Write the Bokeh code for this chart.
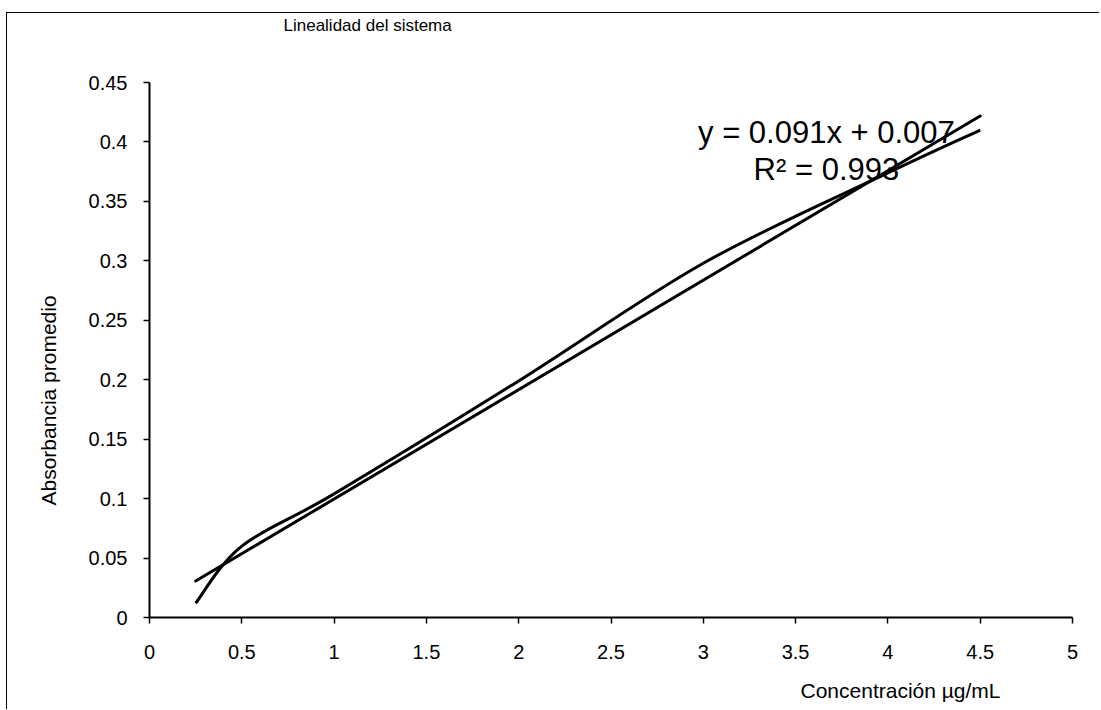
import numpy as np
from bokeh.plotting import figure
from bokeh.models import Label, Title, FixedTicker
from bokeh.embed import file_html
from bokeh.resources import INLINE

# ---- data ----
concentracion = [0.25, 0.5, 1.0, 2.0, 3.0, 4.0, 4.5]
absorbancia = [0.012, 0.060, 0.104, 0.199, 0.298, 0.374, 0.410]
x_ticks = [0, 0.5, 1, 1.5, 2, 2.5, 3, 3.5, 4, 4.5, 5]
x_tick_labels = ["0", "0.5", "1", "1.5", "2", "2.5", "3", "3.5", "4", "4.5", "5"]
y_ticks = [0, 0.05, 0.1, 0.15, 0.2, 0.25, 0.3, 0.35, 0.4, 0.45]
y_tick_labels = ["0", "0.05", "0.1", "0.15", "0.2", "0.25", "0.3", "0.35", "0.4", "0.45"]
titulo = "Linealidad del sistema"
etiqueta_x = "Concentración  µg/mL"
etiqueta_y = "Absorbancia promedio"
ecuacion = "y = 0.091x + 0.007"
r2_texto = "R² = 0.993"

FONT = "Liberation Sans"

p = figure(width=1093, height=697, x_range=(0, 5), y_range=(0, 0.45),
           output_backend="svg", toolbar_location=None,
           min_border_left=142, min_border_right=28,
           min_border_top=69, min_border_bottom=93)
p.styles = {"margin-left": "6px", "margin-top": "12px",
            "border-left": "1.5px solid black", "border-top": "1.5px solid black"}
p.outline_line_color = None
p.xgrid.visible = False
p.ygrid.visible = False
p.background_fill_color = "white"
p.border_fill_color = "white"

for ax in (p.xaxis[0], p.yaxis[0]):
    ax.axis_line_color = "black"
    ax.axis_line_width = 2
    ax.major_tick_line_color = "black"
    ax.major_tick_line_width = 1.5
    ax.major_tick_in = 0
    ax.major_tick_out = 6
    ax.minor_tick_line_color = None
    ax.major_label_text_font = FONT
    ax.major_label_text_font_size = "20px"
    ax.major_label_text_color = "black"

p.xaxis[0].ticker = FixedTicker(ticks=x_ticks)
p.xaxis[0].major_label_overrides = dict(zip(x_ticks, x_tick_labels))
p.xaxis[0].major_label_standoff = 21
p.yaxis[0].ticker = FixedTicker(ticks=y_ticks)
p.yaxis[0].major_label_overrides = dict(zip(y_ticks, y_tick_labels))
p.yaxis[0].major_label_standoff = 16

# ---- smoothed series (Excel-like Catmull-Rom Bezier through the data) ----
xs = np.array(concentracion)
ys = np.array(absorbancia)
n = len(xs)
xp = np.concatenate([[xs[0]], xs, [xs[-1]]])
yp = np.concatenate([[ys[0]], ys, [ys[-1]]])
x0 = xs[:-1]; y0 = ys[:-1]; x1 = xs[1:]; y1 = ys[1:]
cx0 = x0 + (xp[2:n + 1] - xp[0:n - 1]) / 6.0
cy0 = y0 + (yp[2:n + 1] - yp[0:n - 1]) / 6.0
cx1 = x1 - (xp[3:n + 2] - xp[1:n]) / 6.0
cy1 = y1 - (yp[3:n + 2] - yp[1:n]) / 6.0
p.bezier(x0=x0, y0=y0, x1=x1, y1=y1, cx0=cx0, cy0=cy0, cx1=cx1, cy1=cy1,
         line_color="black", line_width=3)

# ---- linear trend line fitted to the data ----
m, b = np.polyfit(xs, ys, 1)
tx = [xs[0], xs[-1]]
p.line(tx, [m * tx[0] + b, m * tx[1] + b], line_color="black", line_width=3,
       line_cap="round")

# ---- texts inside the plot ----
p.add_layout(Label(x=3.667, y=0.408, text=ecuacion, text_align="center",
                   text_baseline="alphabetic", text_font=FONT,
                   text_font_size="31px", text_color="black"))
p.add_layout(Label(x=3.667, y=0.3768, text=r2_texto, text_align="center",
                   text_baseline="alphabetic", text_font=FONT,
                   text_font_size="31px", text_color="black"))


def spacer(size):
    return Title(text=" ", text_font_size="1px", standoff=size)


# ---- title and axis labels as side panels ----
p.add_layout(spacer(43), "above")
p.add_layout(Title(text=titulo, align="left", offset=134, standoff=0,
                   vertical_align="top",
                   text_font=FONT, text_font_size="17px",
                   text_font_style="normal", text_color="black"), "above")
p.add_layout(spacer(12), "below")
p.add_layout(Title(text=etiqueta_x, align="left", offset=651, standoff=0,
                   text_font=FONT, text_font_size="21px",
                   text_font_style="normal", text_color="black"), "below")
p.add_layout(spacer(23), "left")
p.add_layout(Title(text=etiqueta_y, align="left", offset=112, standoff=0,
                   text_font=FONT, text_font_size="21px",
                   text_font_style="normal", text_color="black"), "left")

open("out.html", "w").write(file_html(p, INLINE))
